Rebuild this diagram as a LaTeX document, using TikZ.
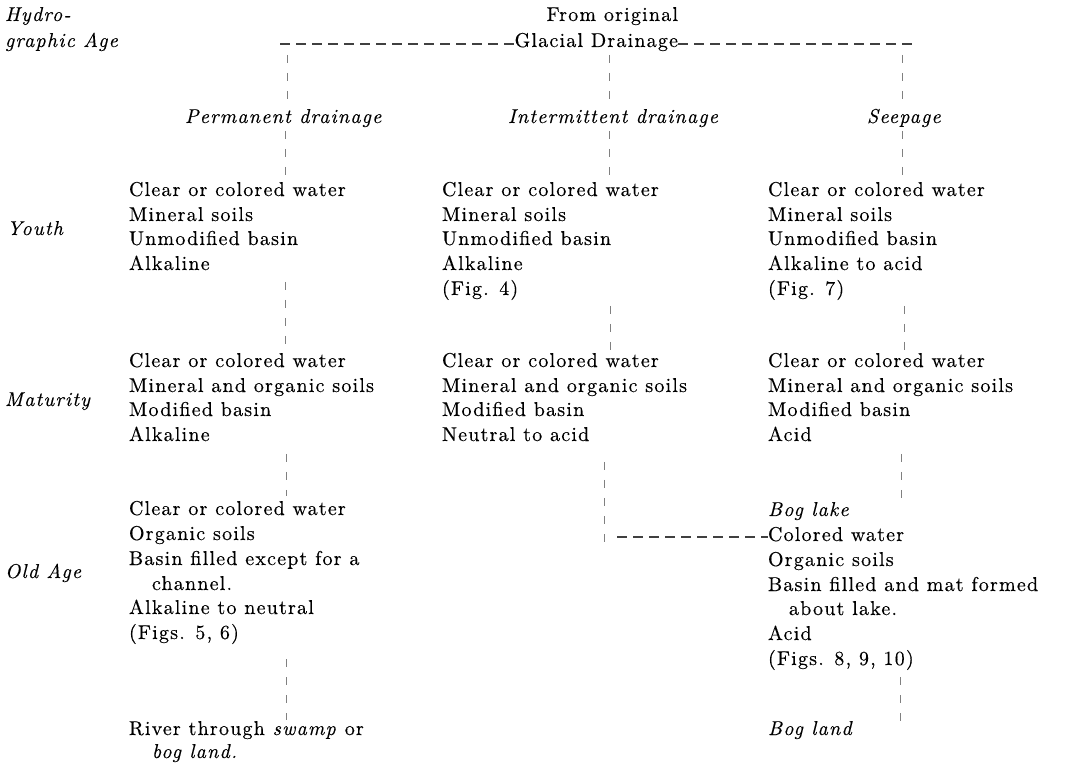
\documentclass[tikz,border=0pt]{standalone}
\usepackage{fontspec}
\setmainfont{lmroman10-regular.otf}[ItalicFont=lmroman10-italic.otf, LetterSpace=6, FakeBold=0.35]
\begin{document}
\begin{tikzpicture}[x=0.5pt,y=-0.5pt,
  txt/.style={anchor=base west, inner sep=0pt, outer sep=0pt, text=black, font=\fontsize{10}{12}\selectfont},
  itx/.style={txt, font=\fontsize{10}{12}\selectfont\itshape},
  rtx/.style={txt, anchor=base east},
  hdash/.style={draw=black!75, line width=0.7pt, dash pattern=on 5pt off 3pt},
  vdash/.style={draw=black!50, line width=0.4pt, dash pattern=on 4pt off 5pt}]
\useasboundingbox (0,0) rectangle (1074,763);
\fill[white] (0,0) rectangle (1074,763);

% row labels
\node[itx] (hyd1) at (5,21) {Hydro-};
\node[itx] (hyd2) at (5,47) {graphic Age};
\node[itx] (youth) at (7,235) {Youth};
\node[itx] (matur) at (5,406) {Maturity};
\node[itx] (oldage) at (5,578) {Old Age};

% top
\node[rtx] (from) at (678,21) {From original};
\node[rtx] (glac) at (678,47) {Glacial Drainage};
\coordinate (tl) at (280,44);
\coordinate (tr) at (912,44);
\draw[hdash] (tl) -- (tl -| glac.west);
\draw[hdash] (tr -| glac.east) -- (tr);

% subtitles
\node[itx] (perm) at (185,123) {Permanent drainage};
\node[itx] (inter) at (508,123) {Intermittent drainage};
\node[itx] (seep) at (867,123) {Seepage};

% column 1
\node[txt] (p1a) at (129,196) {Clear or colored water};
\node[txt] (p1b) at (129,221) {Mineral soils};
\node[txt] (p1c) at (129,245) {Unmodified basin};
\node[txt] (p1d) at (129,270) {Alkaline};
\node[txt] (p2a) at (129,367) {Clear or colored water};
\node[txt] (p2b) at (129,392) {Mineral and organic soils};
\node[txt] (p2c) at (129,416) {Modified basin};
\node[txt] (p2d) at (129,441) {Alkaline};
\node[txt] (p3a) at (129,515) {Clear or colored water};
\node[txt] (p3b) at (129,540) {Organic soils};
\node[txt] (p3c) at (129,565) {Basin filled except for a};
\node[txt] (p3d) at (152,590) {channel.};
\node[txt] (p3e) at (129,614) {Alkaline to neutral};
\node[txt] (p3f) at (129,639) {(Figs. 5, 6)};
\node[txt] (p4a) at (129,735) {River through \textit{swamp} or};
\node[itx] (p4b) at (152,758) {bog land.};

% column 2
\node[txt] (i1a) at (442,196) {Clear or colored water};
\node[txt] (i1b) at (442,221) {Mineral soils};
\node[txt] (i1c) at (442,245) {Unmodified basin};
\node[txt] (i1d) at (442,270) {Alkaline};
\node[txt] (i1e) at (442,295) {(Fig. 4)};
\node[txt] (i2a) at (442,367) {Clear or colored water};
\node[txt] (i2b) at (442,392) {Mineral and organic soils};
\node[txt] (i2c) at (442,416) {Modified basin};
\node[txt] (i2d) at (442,441) {Neutral to acid};

% column 3
\node[txt] (s1a) at (768,196) {Clear or colored water};
\node[txt] (s1b) at (768,221) {Mineral soils};
\node[txt] (s1c) at (768,245) {Unmodified basin};
\node[txt] (s1d) at (768,270) {Alkaline to acid};
\node[txt] (s1e) at (768,295) {(Fig. 7)};
\node[txt] (s2a) at (768,367) {Clear or colored water};
\node[txt] (s2b) at (768,392) {Mineral and organic soils};
\node[txt] (s2c) at (768,416) {Modified basin};
\node[txt] (s2d) at (768,441) {Acid};
\node[itx] (s3a) at (768,516) {Bog lake};
\node[txt] (s3b) at (768,541) {Colored water};
\node[txt] (s3c) at (768,566) {Organic soils};
\node[txt] (s3d) at (768,591) {Basin filled and mat formed};
\node[txt] (s3e) at (789,615) {about lake.};
\node[txt] (s3f) at (768,640) {Acid};
\node[txt] (s3g) at (768,665) {(Figs. 8, 9, 10)};
\node[itx] (s4a) at (768,735) {Bog land};

% vertical connectors, column 1
\coordinate (a1) at (287,55);  \coordinate (a2) at (287,102);
\coordinate (b1) at (285,131); \coordinate (b2) at (285,178);
\coordinate (c1) at (285,282); \coordinate (c2) at (285,351);
\coordinate (d1) at (286,454); \coordinate (d2) at (286,496);
\coordinate (e1) at (286,659); \coordinate (e2) at (286,720);
\draw[vdash] (a1) -- (a2);
\draw[vdash] (b1) -- (b2);
\draw[vdash] (c1) -- (c2);
\draw[vdash] (d1) -- (d2);
\draw[vdash] (e1) -- (e2);

% column 2
\coordinate (f1) at (609,55);  \coordinate (f2) at (609,102);
\coordinate (g1) at (609,131); \coordinate (g2) at (609,178);
\coordinate (h1) at (610,306); \coordinate (h2) at (610,353);
\coordinate (k1) at (604,462); \coordinate (k2) at (604,551);
\draw[vdash] (f1) -- (f2);
\draw[vdash] (g1) -- (g2);
\draw[vdash] (h1) -- (h2);
\draw[vdash] (k1) -- (k2);
\coordinate (m1) at (617,537);
\draw[hdash] (m1) -- (m1 -| s3b.west);

% column 3
\coordinate (n1) at (902,55);  \coordinate (n2) at (902,102);
\coordinate (o1) at (902,131); \coordinate (o2) at (902,178);
\coordinate (q1) at (904,306); \coordinate (q2) at (904,353);
\coordinate (r1) at (901,454); \coordinate (r2) at (901,498);
\coordinate (u1) at (900,677); \coordinate (u2) at (900,722);
\draw[vdash] (n1) -- (n2);
\draw[vdash] (o1) -- (o2);
\draw[vdash] (q1) -- (q2);
\draw[vdash] (r1) -- (r2);
\draw[vdash] (u1) -- (u2);
\end{tikzpicture}
\end{document}
